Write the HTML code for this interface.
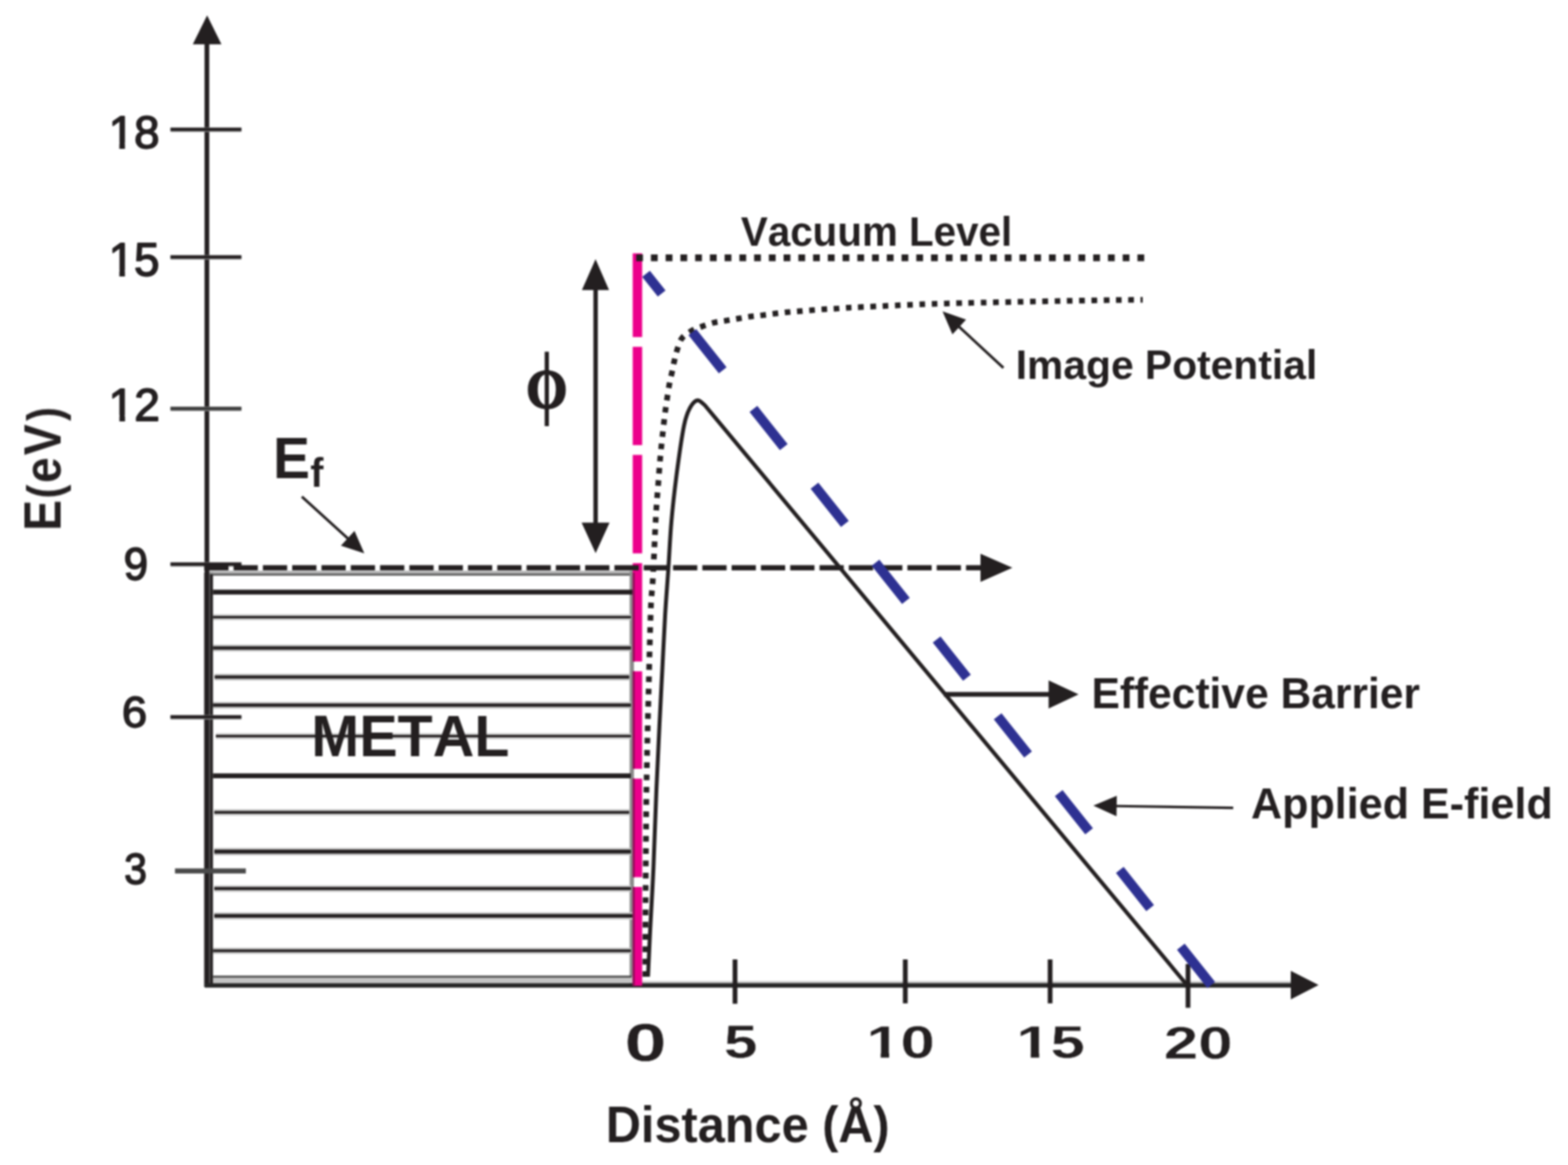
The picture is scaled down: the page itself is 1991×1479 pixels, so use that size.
<!DOCTYPE html>
<html lang="en">
<head>
<meta charset="utf-8">
<title>Energy diagram</title>
<style>
html,body{margin:0;padding:0;background:#fff;}
body{width:1991px;height:1479px;overflow:hidden;}
svg{display:block;font-family:"Liberation Sans",sans-serif;}
text{font-kerning:none;font-variant-ligatures:none;white-space:pre;}
</style>
</head>
<body>
<svg width="1991" height="1479" viewBox="0 0 1991 1479">
<defs><filter id="soft" x="0" y="0" width="1991" height="1479" filterUnits="userSpaceOnUse" color-interpolation-filters="sRGB"><feGaussianBlur stdDeviation="1.0"/></filter></defs>
<rect x="0" y="0" width="1991" height="1479" fill="#ffffff"/>
<g filter="url(#soft)">
<rect x="264.00" y="724.60" width="540.00" height="4.20" fill="#b4b4b4"/>
<rect x="264.00" y="728.20" width="540.00" height="2.60" fill="#5a5a5a"/>
<rect x="799.50" y="724.80" width="5.50" height="525.00" fill="#8c8c8c"/>
<rect x="262.00" y="1239.50" width="541.00" height="8.50" fill="#c4c4c4"/>
<rect x="266.00" y="1238.60" width="536.00" height="2.60" fill="#4a4a4a"/>
<rect x="266.00" y="748.60" width="537.00" height="6.20" fill="#231f20"/>
<rect x="268.00" y="779.80" width="533.00" height="7.60" fill="#c9c9c9"/>
<rect x="268.00" y="782.00" width="533.00" height="3.00" fill="#231f20"/>
<rect x="268.00" y="818.30" width="533.00" height="8.80" fill="#c9c9c9"/>
<rect x="268.00" y="820.50" width="533.00" height="4.20" fill="#231f20"/>
<rect x="272.50" y="855.30" width="526.50" height="8.60" fill="#c9c9c9"/>
<rect x="272.50" y="857.50" width="526.50" height="4.00" fill="#231f20"/>
<rect x="262.00" y="890.90" width="539.00" height="8.80" fill="#c9c9c9"/>
<rect x="262.00" y="893.10" width="539.00" height="4.20" fill="#231f20"/>
<rect x="274.00" y="930.80" width="527.00" height="7.60" fill="#c9c9c9"/>
<rect x="274.00" y="933.00" width="527.00" height="3.00" fill="#231f20"/>
<rect x="266.00" y="981.80" width="535.00" height="6.20" fill="#231f20"/>
<rect x="272.00" y="1027.40" width="527.00" height="8.00" fill="#c9c9c9"/>
<rect x="272.00" y="1029.60" width="527.00" height="3.40" fill="#231f20"/>
<rect x="272.00" y="1076.40" width="529.00" height="9.60" fill="#c9c9c9"/>
<rect x="272.00" y="1078.60" width="529.00" height="5.00" fill="#231f20"/>
<rect x="272.00" y="1123.90" width="529.00" height="8.40" fill="#c9c9c9"/>
<rect x="272.00" y="1126.10" width="529.00" height="3.80" fill="#231f20"/>
<rect x="272.00" y="1158.20" width="531.00" height="9.20" fill="#c9c9c9"/>
<rect x="272.00" y="1160.40" width="531.00" height="4.60" fill="#231f20"/>
<rect x="266.00" y="1203.10" width="535.00" height="8.00" fill="#c9c9c9"/>
<rect x="266.00" y="1205.30" width="535.00" height="3.40" fill="#231f20"/>
<rect x="258.90" y="727.00" width="11.60" height="526.00" fill="#8a8a8a"/>
<rect x="259.70" y="54.00" width="6.00" height="1199.00" fill="#231f20"/>
<rect x="266.60" y="729.00" width="3.60" height="522.00" fill="#231f20"/>
<polygon points="263.0,19.5 281.2,56.3 244.8,56.3" fill="#231f20"/>
<rect x="815.00" y="1245.60" width="826.00" height="3.00" fill="#c6c6c6"/>
<rect x="260.00" y="1248.20" width="1381.00" height="5.60" fill="#262626"/>
<polygon points="1674.3,1250.6 1639.0,1232.4 1639.0,1268.8" fill="#231f20"/>
<rect x="216.50" y="161.70" width="90.00" height="5.80" fill="#909090"/>
<rect x="216.50" y="162.30" width="90.00" height="4.00" fill="#231f20"/>
<rect x="216.50" y="323.70" width="90.00" height="5.80" fill="#909090"/>
<rect x="216.50" y="324.30" width="90.00" height="4.00" fill="#231f20"/>
<rect x="216.50" y="516.10" width="90.00" height="5.80" fill="#909090"/>
<rect x="216.50" y="516.70" width="90.00" height="4.00" fill="#3c3c3c"/>
<rect x="216.50" y="713.60" width="90.00" height="5.80" fill="#909090"/>
<rect x="216.50" y="714.20" width="90.00" height="4.00" fill="#231f20"/>
<rect x="216.50" y="907.60" width="90.00" height="5.80" fill="#909090"/>
<rect x="216.50" y="908.20" width="90.00" height="4.00" fill="#231f20"/>
<rect x="222.20" y="1102.50" width="90.00" height="6.40" fill="#4a4a4a"/>
<rect x="930.30" y="1218.00" width="6.00" height="56.30" fill="#231f20"/>
<rect x="1146.50" y="1218.00" width="6.00" height="55.80" fill="#231f20"/>
<rect x="1330.40" y="1218.00" width="6.00" height="55.80" fill="#231f20"/>
<rect x="1505.50" y="1223.80" width="6.00" height="55.60" fill="#231f20"/>
<rect x="803.40" y="321.60" width="12.00" height="106.30" fill="#ec008c"/>
<rect x="803.40" y="440.30" width="12.00" height="124.80" fill="#ec008c"/>
<rect x="803.40" y="577.50" width="12.00" height="125.00" fill="#ec008c"/>
<rect x="803.40" y="714.90" width="12.00" height="124.90" fill="#ec008c"/>
<rect x="803.40" y="852.20" width="12.00" height="123.90" fill="#ec008c"/>
<rect x="803.40" y="988.50" width="12.00" height="125.10" fill="#ec008c"/>
<rect x="803.40" y="1126.00" width="12.00" height="125.50" fill="#ec008c"/>
<rect x="803.40" y="727.00" width="2.60" height="112.80" fill="#8e0f55"/>
<rect x="803.40" y="852.20" width="2.60" height="123.90" fill="#8e0f55"/>
<rect x="803.40" y="988.50" width="2.60" height="125.10" fill="#8e0f55"/>
<rect x="803.40" y="1126.00" width="2.60" height="125.50" fill="#8e0f55"/>
<rect x="259.40" y="717.50" width="30.80" height="6.60" fill="#231f20"/>
<rect x="296.60" y="717.50" width="30.80" height="6.60" fill="#231f20"/>
<rect x="333.80" y="717.50" width="30.80" height="6.60" fill="#231f20"/>
<rect x="371.00" y="717.50" width="30.80" height="6.60" fill="#231f20"/>
<rect x="408.20" y="717.50" width="30.80" height="6.60" fill="#231f20"/>
<rect x="445.40" y="717.50" width="30.80" height="6.60" fill="#231f20"/>
<rect x="482.60" y="717.50" width="30.80" height="6.60" fill="#231f20"/>
<rect x="519.80" y="717.50" width="30.80" height="6.60" fill="#231f20"/>
<rect x="557.00" y="717.50" width="30.80" height="6.60" fill="#231f20"/>
<rect x="594.20" y="717.50" width="30.80" height="6.60" fill="#231f20"/>
<rect x="631.40" y="717.50" width="30.80" height="6.60" fill="#231f20"/>
<rect x="668.60" y="717.50" width="30.80" height="6.60" fill="#231f20"/>
<rect x="705.80" y="717.50" width="30.80" height="6.60" fill="#231f20"/>
<rect x="743.00" y="717.50" width="30.80" height="6.60" fill="#231f20"/>
<rect x="780.20" y="717.50" width="30.80" height="6.60" fill="#231f20"/>
<rect x="817.40" y="717.50" width="30.80" height="6.60" fill="#231f20"/>
<rect x="854.60" y="717.50" width="30.80" height="6.60" fill="#231f20"/>
<rect x="891.80" y="717.50" width="30.80" height="6.60" fill="#231f20"/>
<rect x="929.00" y="717.50" width="30.80" height="6.60" fill="#231f20"/>
<rect x="966.20" y="717.50" width="30.80" height="6.60" fill="#231f20"/>
<rect x="1003.40" y="717.50" width="30.80" height="6.60" fill="#231f20"/>
<rect x="1040.60" y="717.50" width="30.80" height="6.60" fill="#231f20"/>
<rect x="1077.80" y="717.50" width="30.80" height="6.60" fill="#231f20"/>
<rect x="1115.00" y="717.50" width="30.80" height="6.60" fill="#231f20"/>
<rect x="1152.20" y="717.50" width="30.80" height="6.60" fill="#231f20"/>
<rect x="1189.40" y="717.50" width="30.80" height="6.60" fill="#231f20"/>
<rect x="1226.60" y="717.50" width="20.40" height="6.60" fill="#231f20"/>
<polygon points="1285.5,720.8 1245.0,703.0 1245.0,738.8" fill="#231f20"/>
<rect x="807.80" y="323.00" width="8.60" height="8.60" fill="#231f20"/>
<rect x="826.52" y="323.00" width="8.60" height="8.60" fill="#231f20"/>
<rect x="845.24" y="323.00" width="8.60" height="8.60" fill="#231f20"/>
<rect x="863.96" y="323.00" width="8.60" height="8.60" fill="#231f20"/>
<rect x="882.68" y="323.00" width="8.60" height="8.60" fill="#231f20"/>
<rect x="901.40" y="323.00" width="8.60" height="8.60" fill="#231f20"/>
<rect x="920.12" y="323.00" width="8.60" height="8.60" fill="#231f20"/>
<rect x="938.84" y="323.00" width="8.60" height="8.60" fill="#231f20"/>
<rect x="957.56" y="323.00" width="8.60" height="8.60" fill="#231f20"/>
<rect x="976.28" y="323.00" width="8.60" height="8.60" fill="#231f20"/>
<rect x="995.00" y="323.00" width="8.60" height="8.60" fill="#231f20"/>
<rect x="1013.72" y="323.00" width="8.60" height="8.60" fill="#231f20"/>
<rect x="1032.44" y="323.00" width="8.60" height="8.60" fill="#231f20"/>
<rect x="1051.16" y="323.00" width="8.60" height="8.60" fill="#231f20"/>
<rect x="1069.88" y="323.00" width="8.60" height="8.60" fill="#231f20"/>
<rect x="1088.60" y="323.00" width="8.60" height="8.60" fill="#231f20"/>
<rect x="1107.32" y="323.00" width="8.60" height="8.60" fill="#231f20"/>
<rect x="1126.04" y="323.00" width="8.60" height="8.60" fill="#231f20"/>
<rect x="1144.76" y="323.00" width="8.60" height="8.60" fill="#231f20"/>
<rect x="1163.48" y="323.00" width="8.60" height="8.60" fill="#231f20"/>
<rect x="1182.20" y="323.00" width="8.60" height="8.60" fill="#231f20"/>
<rect x="1200.92" y="323.00" width="8.60" height="8.60" fill="#231f20"/>
<rect x="1219.64" y="323.00" width="8.60" height="8.60" fill="#231f20"/>
<rect x="1238.36" y="323.00" width="8.60" height="8.60" fill="#231f20"/>
<rect x="1257.08" y="323.00" width="8.60" height="8.60" fill="#231f20"/>
<rect x="1275.80" y="323.00" width="8.60" height="8.60" fill="#231f20"/>
<rect x="1294.52" y="323.00" width="8.60" height="8.60" fill="#231f20"/>
<rect x="1313.24" y="323.00" width="8.60" height="8.60" fill="#231f20"/>
<rect x="1331.96" y="323.00" width="8.60" height="8.60" fill="#231f20"/>
<rect x="1350.68" y="323.00" width="8.60" height="8.60" fill="#231f20"/>
<rect x="1369.40" y="323.00" width="8.60" height="8.60" fill="#231f20"/>
<rect x="1388.12" y="323.00" width="8.60" height="8.60" fill="#231f20"/>
<rect x="1406.84" y="323.00" width="8.60" height="8.60" fill="#231f20"/>
<rect x="1425.56" y="323.00" width="8.60" height="8.60" fill="#231f20"/>
<rect x="1444.28" y="323.00" width="8.60" height="8.60" fill="#231f20"/>
<path d="M1451.0,380.7 C1440.8,380.8 1431.5,380.5 1389.9,381.3 C1348.3,382.1 1251.0,383.9 1201.5,385.3 C1152.0,386.7 1113.4,389.0 1092.7,389.9 C1072.0,390.8 1082.4,390.3 1077.1,390.6 C1071.8,390.9 1066.0,391.6 1060.8,391.9 C1055.6,392.2 1050.9,392.3 1045.8,392.6 C1040.7,392.9 1035.1,393.5 1029.9,393.9 C1024.7,394.3 1019.5,394.8 1014.4,395.2 C1009.3,395.6 1004.4,395.9 999.3,396.4 C994.1,396.9 988.7,397.6 983.5,398.2 C978.3,398.8 973.0,399.6 967.9,400.2 C962.8,400.8 957.8,401.2 952.8,401.9 C947.8,402.6 942.9,403.5 937.8,404.4 C932.7,405.2 927.4,406.1 922.2,407.0 C917.1,407.9 912.0,408.2 906.9,409.5 C901.8,410.8 896.2,412.7 891.3,414.5 C886.4,416.3 881.8,417.8 877.5,420.3 C873.2,422.8 868.6,425.7 865.7,429.6 C862.8,433.5 861.5,439.1 859.9,443.9 C858.3,448.7 857.3,453.5 856.2,458.4 C855.1,463.3 854.2,468.4 853.1,473.5 C852.0,478.6 851.1,481.3 849.7,489.1 C848.4,496.9 846.4,509.8 845.0,520.2 C843.6,530.6 842.5,541.1 841.4,551.4 C840.3,561.7 839.2,571.8 838.3,582.0 C837.4,592.2 836.7,602.5 835.9,612.9 C835.1,623.3 834.2,633.8 833.5,644.3 C832.8,654.8 832.3,665.4 831.8,675.7 C831.3,686.0 830.9,695.8 830.4,706.2 C829.9,716.6 829.4,727.7 828.8,738.0 C828.2,748.3 827.2,754.3 826.6,768.0 C826.0,781.7 825.5,801.3 825.0,820.0 C824.5,838.7 824.0,860.0 823.5,880.0 C823.0,900.0 822.4,920.0 822.0,940.0 C821.6,960.0 821.2,980.0 820.9,1000.0 C820.6,1020.0 820.5,1040.0 820.3,1060.0 C820.1,1080.0 820.0,1100.0 819.9,1120.0 C819.8,1140.0 819.7,1159.8 819.6,1180.0 C819.5,1200.2 819.4,1230.8 819.4,1241.0" fill="none" stroke="#231f20" stroke-width="7.2" stroke-dasharray="7.2 8.387" stroke-dashoffset="-11.3"/>
<path d="M822.8,1240.0 C823.3,1230.0 824.4,1203.3 825.6,1180.0 C826.8,1156.7 828.5,1130.0 829.8,1100.0 C831.1,1070.0 832.3,1030.0 833.6,1000.0 C834.9,970.0 836.2,945.0 837.4,920.0 C838.6,895.0 839.8,873.3 841.0,850.0 C842.2,826.7 843.3,801.4 844.6,780.0 C845.9,758.6 847.4,741.0 848.7,721.4 C850.0,701.8 850.8,682.5 852.5,662.6 C854.2,642.7 856.6,622.0 859.2,601.7 C861.9,581.4 865.6,554.9 868.4,540.9 C871.2,526.9 873.1,523.5 876.0,518.0 C878.9,512.5 882.4,508.8 885.6,508.2 C888.8,507.6 893.4,513.5 895.0,514.5 L1505.5,1248.5" fill="none" stroke="#231f20" stroke-width="5" stroke-linejoin="round"/>
<line x1="820.3" y1="347.6" x2="840.2" y2="372.6" stroke="#2e3192" stroke-width="12.5"/>
<line x1="879.1" y1="421.6" x2="917.7" y2="470.2" stroke="#2e3192" stroke-width="12.5"/>
<line x1="956.7" y1="519.2" x2="995.2" y2="567.7" stroke="#2e3192" stroke-width="12.5"/>
<line x1="1034.2" y1="616.7" x2="1072.8" y2="665.2" stroke="#2e3192" stroke-width="12.5"/>
<line x1="1111.7" y1="714.3" x2="1150.3" y2="762.8" stroke="#2e3192" stroke-width="12.5"/>
<line x1="1189.3" y1="811.8" x2="1227.8" y2="860.3" stroke="#2e3192" stroke-width="12.5"/>
<line x1="1266.8" y1="909.3" x2="1305.4" y2="957.9" stroke="#2e3192" stroke-width="12.5"/>
<line x1="1344.3" y1="1006.9" x2="1382.9" y2="1055.4" stroke="#2e3192" stroke-width="12.5"/>
<line x1="1421.9" y1="1104.4" x2="1460.4" y2="1152.9" stroke="#2e3192" stroke-width="12.5"/>
<line x1="1499.4" y1="1201.9" x2="1538.0" y2="1250.5" stroke="#2e3192" stroke-width="12.5"/>
<rect x="753.50" y="366.00" width="5.60" height="300.00" fill="#231f20"/>
<polygon points="756.2,329.1 773.4,368.2 738.9,368.2" fill="#231f20"/>
<polygon points="756.3,702.2 774.0,663.6 738.5,663.6" fill="#231f20"/>
<line x1="383.3" y1="630.6" x2="442.97" y2="684.7" stroke="#231f20" stroke-width="3.4"/>
<polygon points="462.6,702.5 432.9,692.8 450.1,673.9" fill="#231f20"/>
<line x1="1274.1" y1="467.0" x2="1216.6" y2="413.66" stroke="#231f20" stroke-width="3.4"/>
<polygon points="1196.8,395.3 1226.7,405.7 1209.4,424.4" fill="#231f20"/>
<line x1="1198.6" y1="881.6" x2="1333.5" y2="881.6" stroke="#231f20" stroke-width="6.0"/>
<polygon points="1369.5,881.6 1331.5,899.4 1331.5,863.8" fill="#231f20"/>
<line x1="1565.9" y1="1025.6" x2="1415.9" y2="1023.24" stroke="#231f20" stroke-width="3.2"/>
<polygon points="1388.3,1022.8 1418.1,1010.3 1417.7,1036.3" fill="#231f20"/>
<clipPath id="nf1"><path clip-rule="evenodd" d="M-50,-400H3000V400H-50ZM1.99,-6.71H13.59V3.40H1.99ZM20.48,-6.71H31.64V3.40H20.48Z"/></clipPath>
<text transform="translate(137.90,188.14) scale(1.0098,1)" font-size="57.63" font-weight="normal" fill="#231f20" stroke="#231f20" stroke-width="1.8" stroke-linejoin="round" clip-path="url(#nf1)">18</text>
<clipPath id="nf2"><path clip-rule="evenodd" d="M-50,-400H3000V400H-50ZM2.05,-6.77H13.80V3.40H2.05ZM20.77,-6.77H32.06V3.40H20.77Z"/></clipPath>
<text transform="translate(137.91,350.13) scale(0.9937,1)" font-size="58.47" font-weight="normal" fill="#231f20" stroke="#231f20" stroke-width="1.8" stroke-linejoin="round" clip-path="url(#nf2)">15</text>
<clipPath id="nf3"><path clip-rule="evenodd" d="M-50,-400H3000V400H-50ZM2.01,-6.72H13.65V3.40H2.01ZM20.56,-6.72H31.75V3.40H20.56Z"/></clipPath>
<text transform="translate(137.86,533.60) scale(1.0128,1)" font-size="57.86" font-weight="normal" fill="#231f20" stroke="#231f20" stroke-width="1.8" stroke-linejoin="round" clip-path="url(#nf3)">12</text>
<text transform="translate(156.98,735.55) scale(0.9886,1)" font-size="56.50" font-weight="normal" fill="#231f20" stroke="#231f20" stroke-width="1.8" stroke-linejoin="round">9</text>
<text transform="translate(154.77,922.55) scale(1.0281,1)" font-size="56.07" font-weight="normal" fill="#231f20" stroke="#231f20" stroke-width="1.8" stroke-linejoin="round">6</text>
<text transform="translate(157.72,1122.35) scale(0.9253,1)" font-size="56.07" font-weight="normal" fill="#231f20" stroke="#231f20" stroke-width="1.8" stroke-linejoin="round">3</text>
<text transform="translate(793.01,1347.33) scale(1.3911,1)" font-size="68.93" font-weight="bold" fill="#231f20" stroke="#fff" stroke-width="0.4" stroke-linejoin="round">0</text>
<text transform="translate(919.25,1343.42) scale(1.2872,1)" font-size="59.33" font-weight="bold" fill="#231f20" stroke="#fff" stroke-width="0.4" stroke-linejoin="round">5</text>
<clipPath id="nf4"><path clip-rule="evenodd" d="M-50,-400H3000V400H-50ZM2.09,-7.31H13.29V2.50H2.09ZM21.09,-7.31H31.57V2.50H21.09Z"/></clipPath>
<text transform="translate(1100.06,1343.24) scale(1.3733,1)" font-size="56.92" font-weight="bold" fill="#231f20" stroke="#fff" stroke-width="0.4" stroke-linejoin="round" clip-path="url(#nf4)">10</text>
<clipPath id="nf5"><path clip-rule="evenodd" d="M-50,-400H3000V400H-50ZM2.14,-7.39H13.48V2.50H2.14ZM21.40,-7.39H32.01V2.50H21.40Z"/></clipPath>
<text transform="translate(1290.55,1343.24) scale(1.3546,1)" font-size="57.76" font-weight="bold" fill="#231f20" stroke="#fff" stroke-width="0.4" stroke-linejoin="round" clip-path="url(#nf5)">15</text>
<text transform="translate(1477.78,1344.24) scale(1.3711,1)" font-size="57.20" font-weight="bold" fill="#231f20" stroke="#fff" stroke-width="0.4" stroke-linejoin="round">20</text>
<text transform="translate(395.32,960.00) scale(0.9849,1)" font-size="74.13" font-weight="bold" fill="#231f20">METAL</text>
<text transform="translate(940.75,312.30) scale(0.9899,1)" font-size="51.75" font-weight="bold" fill="#231f20">Vacuum Level</text>
<text transform="translate(1289.73,481.20) scale(0.9985,1)" font-size="51.89" font-weight="bold" fill="#231f20">Image Potential</text>
<text transform="translate(1385.89,898.70) scale(0.9724,1)" font-size="55.52" font-weight="bold" fill="#231f20">Effective Barrier</text>
<text transform="translate(1588.44,1038.60) scale(0.9861,1)" font-size="55.52" font-weight="bold" fill="#231f20">Applied E-field</text>
<text transform="translate(769.17,1450.00) scale(0.9577,1)" font-size="64.54" font-weight="bold" fill="#231f20">Distance (Å)</text>
<text transform="translate(346.80,606.60) scale(0.9549,1)" font-size="73.55" font-weight="bold" fill="#231f20">E<tspan x="49.37" y="11.40" font-size="52.58">f</tspan></text>
<text transform="translate(666.85,518.78) scale(0.8543,1)" font-size="103.45" font-weight="bold" fill="#231f20" font-family="Liberation Serif, serif">ϕ</text>
<text transform="rotate(-90) scale(0.8750,1)" x="-770.20 -723.23 -700.67 -660.57 -610.80" y="77.50" font-size="67.00" font-weight="bold" fill="#231f20">E<tspan font-size="60.30">(</tspan>eV<tspan font-size="60.30">)</tspan></text>
</g>
</svg>
</body>
</html>
